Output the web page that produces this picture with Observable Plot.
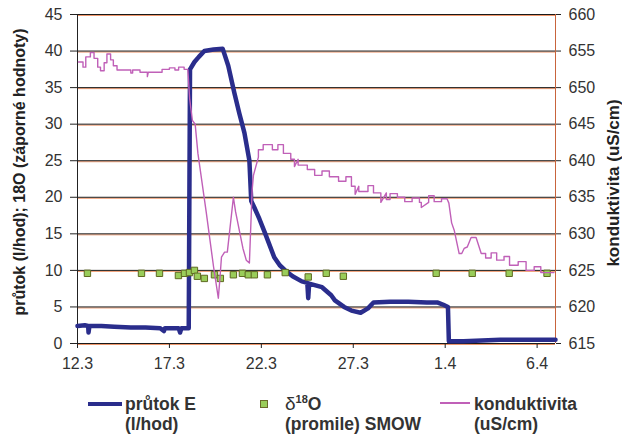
<!DOCTYPE html>
<html><head><meta charset="utf-8">
<script src="https://cdn.jsdelivr.net/npm/d3@7"></script>
<script src="https://cdn.jsdelivr.net/npm/@observablehq/plot@0.6"></script>
<style>
body{margin:0;background:#fff;font-family:"Liberation Sans",Arial,sans-serif;}
#wrap{position:relative;width:622px;height:435px;overflow:hidden;background:#fff}
#chart{position:absolute;left:0;top:0}
.lg{position:absolute;font-weight:bold;font-size:17.5px;color:#333;line-height:20px;height:20px;white-space:nowrap}
.sw{position:absolute}
</style></head><body><div id="wrap"><div id="chart"></div>
<div class="sw" style="left:88px;top:402px;width:34px;height:4px;background:#2a2d8c"></div>
<div class="lg" style="left:125px;top:394px">průtok E</div>
<div class="lg" style="left:125px;top:414px">(l/hod)</div>
<div class="sw" style="left:260px;top:400px;width:6px;height:6px;background:#9acd5a;border:1px solid #6b6b2a"></div>
<div class="lg" style="left:285px;top:394px"><span style="font-size:19px;font-weight:normal">δ</span><span style="font-size:11px;position:relative;top:-7px">18</span>O</div>
<div class="lg" style="left:285px;top:414px">(promile) SMOW</div>
<div class="sw" style="left:440px;top:402px;width:30px;height:1.5px;background:#c060b8"></div>
<div class="lg" style="left:474px;top:394px">konduktivita</div>
<div class="lg" style="left:474px;top:414px">(uS/cm)</div>
</div>
<script>
// x positions are days after 12.3 (12 March)
const xTickDays = [0, 5, 10, 15, 20, 25];
const xTickLabels = ["12.3", "17.3", "22.3", "27.3", "1.4", "6.4"];
const leftTicks = [0, 5, 10, 15, 20, 25, 30, 35, 40, 45];
const rightTicks = [615, 620, 625, 630, 635, 640, 645, 650, 655, 660];

// průtok E (l/hod)
const flowDay = [0, 0.4, 0.58, 0.6, 0.65, 1.3, 2.0, 2.9, 3.7, 4.5, 4.7, 4.75, 5.5, 5.58, 5.65, 6.05, 6.12, 6.36, 6.6, 6.9, 7.4, 7.9, 8.2, 8.53, 8.8, 9.08, 9.35, 9.45, 9.6, 9.9, 10.2, 10.7, 11.0, 11.3, 11.7, 12.2, 12.5, 12.55, 12.6, 13.3, 13.8, 14.0, 14.5, 14.9, 15.4, 15.8, 16.1, 17, 18, 19, 19.6, 19.9, 20.15, 20.2, 21, 22, 23, 24, 26];
const flowVal = [2.4, 2.5, 2.4, 1.5, 2.4, 2.4, 2.3, 2.2, 2.2, 2.1, 1.7, 2.1, 2.1, 1.5, 2.1, 2.1, 37.5, 38.5, 39.2, 40.0, 40.2, 40.3, 38.0, 34.3, 31.5, 28.8, 25.0, 19.5, 18.7, 17.0, 15.1, 11.8, 10.7, 10.0, 9.2, 8.5, 8.3, 6.2, 8.2, 7.7, 6.6, 5.9, 5.0, 4.5, 4.2, 4.8, 5.6, 5.7, 5.7, 5.6, 5.6, 5.3, 5.0, 0.3, 0.3, 0.4, 0.5, 0.5, 0.5];

// δ18O (promile) SMOW, záporné hodnoty
const isoDay = [0.54, 3.48, 4.46, 5.49, 5.82, 6.09, 6.36, 6.52, 6.9, 7.45, 7.77, 8.48, 8.97, 9.29, 9.62, 10.33, 11.3, 12.55, 13.53, 14.46, 19.51, 21.47, 23.48, 25.54];
const isoVal = [9.6, 9.6, 9.6, 9.3, 9.6, 9.7, 10.0, 9.2, 8.9, 9.4, 8.9, 9.4, 9.6, 9.4, 9.4, 9.4, 9.7, 9.1, 9.6, 9.2, 9.6, 9.6, 9.6, 9.6];

// konduktivita (uS/cm)
const condDay = [0.05,0.3,0.3,0.45,0.45,0.7,0.7,0.9,0.9,1.1,1.1,1.25,1.25,1.45,1.45,1.6,1.6,1.8,1.8,1.95,1.95,2.15,2.15,2.9,2.9,3.0,3.0,3.4,3.4,3.8,3.8,3.85,4.6,4.6,5.0,5.0,5.3,5.3,5.5,5.5,5.8,5.8,6.0,
 6.1,6.25,6.4,6.55,7.0,7.4,7.66,7.75,7.83,8.0,8.15,8.48,8.6,9.0,9.18,9.35,9.5,9.57,9.84,9.84,10.1,10.1,10.6,10.6,10.9,10.9,11.2,11.2,11.6,11.6,11.8,11.8,12.0,12.0,12.5,12.5,12.9,12.9,13.3,13.3,13.7,13.7,14.2,14.2,14.6,14.6,14.9,14.9,15.1,15.1,15.3,15.3,15.8,15.8,16.1,16.1,16.5,16.5,16.8,16.8,17.0,17.0,17.4,17.4,17.8,17.8,18.2,18.2,18.6,18.6,18.7,18.7,19.1,19.1,19.4,19.4,19.8,19.8,20.1,20.2,20.35,20.49,20.76,20.9,21.03,21.2,21.41,21.68,21.96,22.2,22.2,22.5,22.5,22.8,22.8,23.2,23.2,23.5,23.5,23.97,23.97,24.4,24.4,24.84,24.84,25.2,25.2,25.92];
const condVal = [653.5,653.5,652.8,652.8,654.2,654.2,654.8,654.8,654.0,654.0,652.8,652.8,652.3,652.3,653.4,653.4,654.6,654.6,653.8,653.8,653.0,653.0,652.4,652.4,652.0,652.0,652.4,652.4,652.1,652.1,651.5,652.1,652.1,652.5,652.5,652.7,652.7,652.4,652.4,652.8,652.8,652.5,652.5,
 648.5,645.5,645.0,641.0,633.0,625.5,621.2,624.0,626.8,627.5,627.5,635.0,633.0,628.0,626.4,626.0,636.0,638.0,640.5,641.5,641.5,642.2,642.2,641.5,641.5,642.2,642.2,641.0,641.0,640.2,640.2,639.2,640.2,639.4,639.4,638.8,638.8,638.0,638.0,638.6,638.6,637.8,637.8,637.2,637.2,637.8,637.8,636.5,636.5,635.4,636.5,635.8,635.8,636.6,636.6,635.6,635.6,634.3,635.6,634.7,634.7,635.5,635.5,635.0,635.0,634.4,634.4,634.9,634.9,634.3,634.3,633.6,634.3,635.2,635.2,634.4,634.4,634.8,634.8,634.2,631.5,630.5,627.3,627.3,628.0,628.2,629.5,629.5,627.3,627.3,626.7,626.7,627.4,627.4,626.4,626.4,626.9,626.9,625.7,625.7,626.2,626.2,625.0,625.0,625.5,625.5,624.7,624.7];

const flow = flowDay.map((d, i) => ({day: d, v: flowVal[i]}));
const iso = isoDay.map((d, i) => ({day: d, v: isoVal[i]}));
const cond = condDay.map((d, i) => ({day: d, v: condVal[i]}));
const offset = rightTicks[0] - leftTicks[0]; // right axis 615..660 aligned with left 0..45

const font = "Liberation Sans, Arial, sans-serif";
const chart = Plot.plot({
  width: 622, height: 380,
  marginLeft: 77, marginRight: 67, marginTop: 14, marginBottom: 37,
  style: {fontFamily: font, fontSize: "16px", color: "#333", background: "#fff"},
  x: {domain: [0, 26]},
  y: {domain: [0, 45]},
  marks: [
    Plot.ruleY(leftTicks, {stroke: "#e8743b", strokeOpacity: 0.75, dy: 1}),
    Plot.ruleY(leftTicks, {stroke: "#1a1a1a", strokeWidth: 1}),
    Plot.ruleX([0], {stroke: "#222"}),
    Plot.ruleX([26], {stroke: "#c8643c"}),
    Plot.axisY({ticks: leftTicks, tickSize: 7, tickPadding: 8, label: null, stroke: "#222"}),
    Plot.axisY({anchor: "right", ticks: leftTicks, tickFormat: d => String(d + offset), tickSize: 5, tickPadding: 8, label: null, stroke: "#222"}),
    Plot.axisX({ticks: xTickDays, tickFormat: (d, i) => xTickLabels[i], tickSize: 5, tickPadding: 9, label: null, stroke: "#222"}),
    Plot.line(flow, {x: "day", y: "v", stroke: "#2a2d8c", strokeWidth: 4.5, strokeLinejoin: "round"}),
    Plot.dot(iso, {x: "day", y: "v", symbol: "square", r: 3.6, fill: "#9acd5a", stroke: "#5f6a22", strokeWidth: 1}),
    Plot.line(cond, {x: "day", y: d => d.v - offset, stroke: "#c060b8", strokeWidth: 1.4}),
    Plot.text(["průtok (l/hod); 18O (záporné hodnoty)"], {frameAnchor: "left", textAnchor: "middle", dx: -58, dy: -7, rotate: -90, fontSize: 16, fontWeight: "bold", fill: "#222"}),
    Plot.text(["konduktivita (uS/cm)"], {frameAnchor: "right", textAnchor: "middle", dx: 58, dy: 4, rotate: -90, fontSize: 17, fontWeight: "bold", fill: "#222"})
  ]
});
document.getElementById("chart").appendChild(chart);
</script>
</body></html>
